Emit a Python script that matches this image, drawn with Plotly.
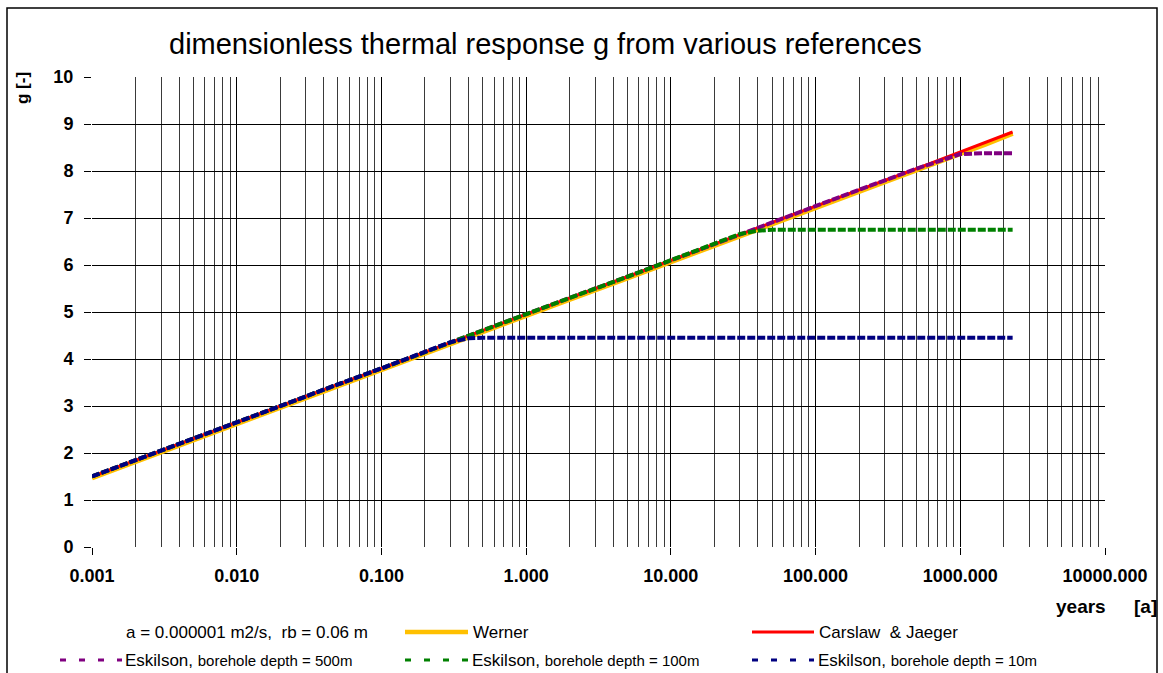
import plotly.graph_objects as go

# time in years (log axis) and dimensionless response g
years = [0.001, 0.002, 0.005, 0.01, 0.02, 0.05, 0.1, 0.2, 0.3, 0.4, 0.5,
         1, 2, 5, 10, 20, 30, 40, 50, 100, 200, 500, 700, 1000, 1500, 2300]

g_werner = [1.47, 1.82, 2.27, 2.62, 2.97, 3.43, 3.77, 4.12, 4.32, 4.46, 4.57,
            4.92, 5.27, 5.72, 6.07, 6.42, 6.62, 6.76, 6.87, 7.22, 7.57, 8.02,
            8.19, 8.37, 8.57, 8.80]
g_carslaw = [1.50, 1.85, 2.30, 2.65, 3.00, 3.46, 3.80, 4.15, 4.35, 4.49, 4.60,
             4.95, 5.30, 5.75, 6.10, 6.45, 6.65, 6.79, 6.90, 7.25, 7.60, 8.05,
             8.22, 8.40, 8.60, 8.83]
g_esk_500 = [1.50, 1.85, 2.30, 2.65, 3.00, 3.46, 3.80, 4.15, 4.35, 4.49, 4.60,
             4.95, 5.30, 5.75, 6.10, 6.45, 6.65, 6.79, 6.90, 7.25, 7.60, 8.05,
             8.21, 8.36, 8.38, 8.38]
g_esk_100 = [1.50, 1.85, 2.30, 2.65, 3.00, 3.46, 3.80, 4.15, 4.35, 4.49, 4.60,
             4.95, 5.30, 5.75, 6.10, 6.45, 6.66, 6.73, 6.75, 6.75, 6.75, 6.75,
             6.75, 6.75, 6.75, 6.75]
g_esk_10 = [1.50, 1.85, 2.30, 2.65, 3.00, 3.46, 3.80, 4.15, 4.36, 4.44, 4.45,
            4.45, 4.45, 4.45, 4.45, 4.45, 4.45, 4.45, 4.45, 4.45, 4.45, 4.45,
            4.45, 4.45, 4.45, 4.45]

x_tickvals = [0.001, 0.01, 0.1, 1, 10, 100, 1000, 10000]
x_ticktext = ["0.001", "0.010", "0.100", "1.000", "10.000", "100.000",
              "1000.000", "10000.000"]
y_tickvals = list(range(0, 11))

minor_vals = [m * d for d in [0.001, 0.01, 0.1, 1, 10, 100, 1000]
              for m in range(2, 10)]

GOLD = "#FFC000"
RED = "#FF0000"
PURPLE = "#800080"
GREEN = "#008000"
NAVY = "#000080"

W, H = 1163, 673
L, R, T, B = 92, 58, 77, 126
PW, PH = W - L - R, H - T - B


def px(x):
    return (x - L) / PW


def py(y):
    return (H - B - y) / PH


fig = go.Figure()
fig.add_trace(go.Scatter(x=years, y=g_werner, mode="lines",
                         line=dict(color=GOLD, width=5), name="Werner"))
fig.add_trace(go.Scatter(x=years, y=g_carslaw, mode="lines",
                         line=dict(color=RED, width=3), name="Carslaw & Jaeger"))
fig.add_trace(go.Scatter(x=years, y=g_esk_500, mode="lines",
                         line=dict(color=PURPLE, width=4, dash="8px,2px"),
                         name="Eskilson 500m"))
fig.add_trace(go.Scatter(x=years, y=g_esk_100, mode="lines",
                         line=dict(color=GREEN, width=4, dash="8px,2px"),
                         name="Eskilson 100m"))
fig.add_trace(go.Scatter(x=years, y=g_esk_10, mode="lines",
                         line=dict(color=NAVY, width=4, dash="8px,2px"),
                         name="Eskilson 10m"))

tick_font = dict(family="Liberation Sans, Arial", size=18, color="black",
                 weight="bold")

fig.update_xaxes(type="log", range=[-3, 4], tickmode="array",
                 tickvals=x_tickvals, ticktext=x_ticktext,
                 showgrid=True, gridcolor="black", gridwidth=1,
                 ticks="outside", ticklen=7, tickcolor="black",
                 tickfont=tick_font, ticklabelstandoff=5,
                 showline=False, zeroline=False,
                 minor=dict(tickmode="array", tickvals=minor_vals,
                            showgrid=True, gridcolor="#3a3a3a", gridwidth=1,
                            ticks=""))
fig.update_yaxes(range=[0, 10], tickmode="array", tickvals=y_tickvals,
                 showgrid=True, gridcolor="black", gridwidth=1,
                 ticks="outside", ticklen=7, tickcolor="black",
                 tickfont=tick_font, ticklabelstandoff=7,
                 zeroline=False, showline=False)

shapes = []
annotations = []

# outer chart frame
shapes.append(dict(type="rect", xref="paper", yref="paper",
                   x0=px(7), x1=px(1157), y0=py(700), y1=py(8),
                   line=dict(color="black", width=1.5), layer="below"))

# title and axis captions
annotations.append(dict(text="dimensionless thermal response g from various references",
                        xref="paper", yref="paper", x=px(545), y=py(44),
                        xanchor="center", yanchor="middle", showarrow=False,
                        font=dict(family="Liberation Sans, Arial", size=29,
                                  color="black")))
annotations.append(dict(text="<b>g [-]</b>", xref="paper", yref="paper",
                        x=px(23), y=py(88), textangle=-90,
                        xanchor="center", yanchor="middle", showarrow=False,
                        font=dict(family="Liberation Sans, Arial", size=17,
                                  color="black")))
annotations.append(dict(text="<b>years</b>", xref="paper", yref="paper",
                        x=px(1081), y=py(606), xanchor="center",
                        yanchor="middle", showarrow=False,
                        font=dict(family="Liberation Sans, Arial", size=19,
                                  color="black")))
annotations.append(dict(text="<b>[a]</b>", xref="paper", yref="paper",
                        x=px(1145), y=py(606), xanchor="center",
                        yanchor="middle", showarrow=False,
                        font=dict(family="Liberation Sans, Arial", size=19,
                                  color="black")))


def leg_line(x0, x1, y, color, width, dash="solid"):
    shapes.append(dict(type="line", xref="paper", yref="paper",
                       x0=px(x0), x1=px(x1), y0=py(y), y1=py(y),
                       line=dict(color=color, width=width, dash=dash)))


def leg_text(x, y, text, size=16):
    annotations.append(dict(text=text, xref="paper", yref="paper",
                            x=px(x), y=py(y), xanchor="left",
                            yanchor="middle", showarrow=False,
                            font=dict(family="Liberation Sans, Arial",
                                      size=size, color="black")))


# legend block
row1, row2 = 632, 660
leg_text(124, row1, "a = 0.000001 m2/s,  rb = 0.06 m", 17)
leg_line(405, 468, row1, GOLD, 4.5)
leg_text(471, row1, "Werner", 17)
leg_line(752, 814, row1, RED, 3)
leg_text(817, row1, "Carslaw  &amp; Jaeger", 17)

esk = "Eskilson, <span style='font-size:15px'>borehole depth = {}</span>"
leg_line(60, 122, row2, PURPLE, 3, "6px,13px")
leg_text(123, row2, esk.format("500m"), 17)
leg_line(405, 468, row2, GREEN, 3, "6px,13px")
leg_text(470, row2, esk.format("100m"), 17)
leg_line(752, 814, row2, NAVY, 3, "6px,13px")
leg_text(816, row2, esk.format("10m"), 17)

fig.update_layout(width=W, height=H,
                  margin=dict(l=L, r=R, t=T, b=B),
                  paper_bgcolor="white", plot_bgcolor="white",
                  showlegend=False, shapes=shapes, annotations=annotations,
                  font=dict(family="Liberation Sans, Arial", color="black"))

fig.write_html("out.html")
